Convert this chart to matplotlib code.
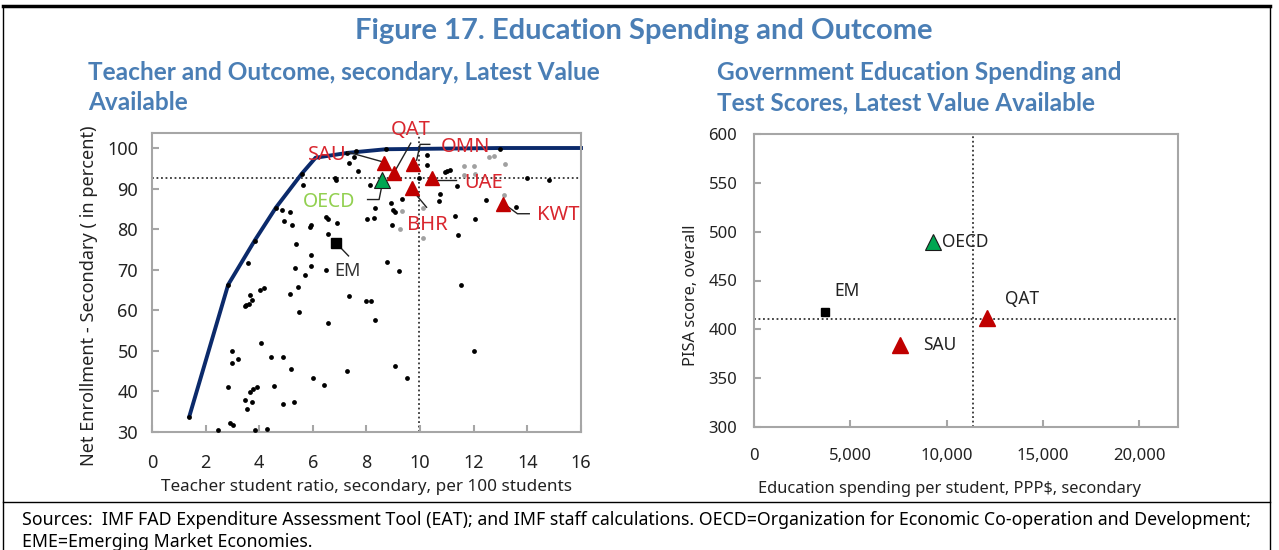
import matplotlib
matplotlib.use("Agg")
import matplotlib.pyplot as plt
from matplotlib.lines import Line2D

# ---- left panel data: teacher student ratio vs net enrollment ----
dots_x = [1.39, 2.84, 3.83, 4.62, 5.59, 7.29, 7.62, 8.72, 12.99, 4.84, 5.16, 4.91, 5.24, 5.36,
          3.58, 5.32, 3.66, 4.03, 4.18, 3.52, 3.62, 3.72, 3.47, 5.15, 4.07, 2.99, 2.97, 3.22,
          4.44, 4.88, 5.20, 2.84, 3.64, 3.78, 3.92, 4.54, 3.46, 3.73, 3.54, 4.88, 5.29, 2.91,
          3.02, 2.45, 3.84, 4.29, 5.44, 7.33, 7.99, 8.15, 5.49, 6.57, 8.32, 7.28, 9.08, 6.01,
          6.43, 9.50, 7.33, 7.52, 7.70, 6.83, 6.85, 8.32, 8.03, 8.27, 8.90, 8.99, 9.07, 9.31,
          8.94, 6.58, 5.93, 5.88, 6.48, 6.58, 6.89, 5.93, 5.93, 6.48, 5.71, 8.76, 9.23, 8.12,
          10.24, 10.27, 9.96, 10.73, 10.69, 10.91, 11.00, 11.13, 11.38, 11.31, 12.05, 11.40,
          12.44, 13.58, 14.00, 14.80, 11.54, 12.00, 5.62]
dots_y = [33.8, 66.3, 77.2, 85.3, 93.7, 98.8, 99.3, 99.7, 99.7, 84.6, 84.3, 82.1, 81.1, 76.4,
          71.7, 70.5, 63.8, 65.0, 65.4, 61.3, 61.5, 62.5, 61.1, 64.1, 51.9, 50.0, 47.1, 48.1,
          48.4, 48.6, 45.6, 41.1, 39.9, 40.5, 41.1, 41.4, 38.0, 37.4, 35.6, 37.0, 37.5, 32.1,
          31.7, 30.5, 30.5, 30.8, 65.8, 63.5, 62.3, 62.3, 59.7, 56.9, 57.5, 45.0, 46.2, 43.3,
          41.5, 43.3, 96.2, 97.8, 94.3, 92.7, 92.1, 85.1, 82.6, 82.8, 86.4, 84.8, 84.2, 87.4,
          81.1, 78.7, 81.0, 80.6, 83.0, 82.6, 81.6, 73.7, 71.0, 70.0, 68.8, 72.0, 69.7, 90.8,
          98.4, 95.8, 92.5, 88.6, 86.9, 94.2, 94.4, 94.7, 90.6, 83.3, 82.4, 78.6,
          87.3, 85.5, 92.7, 92.1, 66.3, 50.0, 91.0]
grey_x = [9.34, 9.25, 10.12, 10.12, 11.62, 11.62, 12.02, 12.03, 12.57, 12.74, 13.15, 13.12]
grey_y = [84.4, 80.1, 85.1, 77.7, 95.5, 93.3, 95.5, 93.6, 97.8, 98.0, 96.0, 88.4]

frontier_x = [1.39, 2.84, 3.83, 4.62, 5.59, 6.1, 7.29, 8.72, 12.99, 16.0]
frontier_y = [33.8, 66.3, 77.2, 85.3, 93.7, 97.6, 98.8, 99.7, 100.0, 100.0]

gcc_names = ["SAU", "QAT", "OMN", "BHR", "UAE", "KWT"]
gcc_x = [8.67, 9.02, 9.75, 9.69, 10.43, 13.09]
gcc_y = [96.4, 93.8, 96.0, 90.1, 92.6, 86.1]
oecd_left = (8.57, 92.1)
em_left = (6.85, 76.7)
avg_ratio, avg_enroll = 9.95, 92.6

# label text positions and leader lines (data coords)
left_labels = {"SAU": (6.55, 98.3), "QAT": (9.66, 104.5), "OMN": (11.68, 100.2),
               "UAE": (12.35, 91.3), "KWT": (15.15, 83.6), "BHR": (10.26, 80.9)}
left_leaders = {"SAU": [(7.3, 99.0), (8.6, 96.6)],
                "QAT": [(9.65, 101.2), (9.05, 94.2)],
                "OMN": [(10.36, 100.9), (10.0, 100.9), (9.87, 97.0)],
                "UAE": [(11.34, 92.1), (10.59, 92.1)],
                "KWT": [(14.07, 83.8), (13.63, 83.8), (13.2, 85.9)],
                "BHR": [(10.24, 85.4), (9.71, 89.6)],
                "OECD": [(8.04, 87.3), (8.47, 87.3), (8.6, 91.6)],
                "EM": [(7.33, 73.4), (7.01, 75.6)]}

# ---- right panel data: spending vs PISA ----
spend = [7600, 12100]
pisa = [384, 412]
oecd_right = (9280, 489)
em_right = (3700, 418)
avg_spend, avg_pisa = 11350, 410.5

RED = "#C00000"
LABEL_RED = "#D9262E"
BLUE = "#4A7EB5"
NAVY = "#0B2A6B"
SPINE = "#A6A6A6"
TXT = "#222222"

plt.rcParams["font.family"] = ["Noto Sans", "DejaVu Sans"]

fig = plt.figure(figsize=(12.79, 5.5), dpi=100)
W, H = 1279, 550


def box(l, t, r, b):
    return [l / W, 1 - b / H, (r - l) / W, (b - t) / H]


def style(ax, size, xpad, ypad):
    for s in ax.spines.values():
        s.set_color(SPINE)
        s.set_linewidth(1.5)
    ax.tick_params(direction="in", color=SPINE, width=1.5, length=5,
                   labelsize=size, labelcolor=TXT)
    ax.tick_params(axis="x", pad=xpad)
    ax.tick_params(axis="y", pad=ypad)


# left panel
ax1 = fig.add_axes(box(152, 133, 581, 432))
ax1.set_xlim(0, 16)
ax1.set_ylim(30, 103.7)
ax1.set_xticks(range(0, 17, 2))
ax1.set_yticks(range(30, 101, 10))
style(ax1, 13, 16, 10)

ax1.axhline(avg_enroll, color="#333333", lw=1.3, ls=(0, (1, 1.5)), zorder=1)
ax1.axvline(avg_ratio, color="#333333", lw=1.3, ls=(0, (1, 1.5)), zorder=1)
ax1.plot(frontier_x, frontier_y, color=NAVY, lw=2.8, zorder=2, clip_on=False)
ax1.scatter(grey_x, grey_y, s=12, color="#A0A0A0", zorder=3, linewidths=0)
ax1.scatter(dots_x, dots_y, s=12, color="black", zorder=3, linewidths=0)

for name, pts in left_leaders.items():
    xs, ys = zip(*pts)
    ax1.plot(xs, ys, color=TXT, lw=1, zorder=4, clip_on=False)

ax1.plot(gcc_x, gcc_y, "^", ms=10, color=RED, mec=RED, zorder=5, ls="none")
ax1.plot(*oecd_left, "^", ms=12, color="#00A651", mec="#1a1a1a", mew=0.8, zorder=6)
ax1.plot(*em_left, "s", ms=7, color="black", zorder=5)

for name in gcc_names:
    tx, ty = left_labels[name]
    ax1.text(tx, ty, name, color=LABEL_RED, fontsize=14.5, ha="center", va="center",
             zorder=7, clip_on=False)
ax1.text(6.6, 86.8, "OECD", color="#92D050", fontsize=14, ha="center", va="center", zorder=7)
ax1.text(7.28, 69.7, "EM", color="#333333", fontsize=13, ha="center", va="center", zorder=7)

ax1.set_xlabel("Teacher student ratio, secondary, per 100 students", fontsize=12.3,
               color=TXT, labelpad=5)
ax1.set_ylabel("Net Enrollment - Secondary ( in percent)", fontsize=13, color=TXT)
ax1.yaxis.set_label_coords(-0.127, 0.455)

# right panel
ax2 = fig.add_axes(box(754, 134, 1178, 427))
ax2.set_xlim(0, 22000)
ax2.set_ylim(300, 600)
ax2.set_xticks(range(0, 20001, 5000))
ax2.set_yticks(range(300, 601, 50))
ax2.set_xticklabels([f"{v:,}" for v in range(0, 20001, 5000)])
style(ax2, 12, 15, 12)

ax2.axhline(avg_pisa, color="#333333", lw=1.3, ls=(0, (1, 1.5)), zorder=1)
ax2.axvline(avg_spend, color="#333333", lw=1.3, ls=(0, (1, 1.5)), zorder=1)
ax2.plot(spend, pisa, "^", ms=11, color=RED, ls="none", zorder=4)
ax2.plot(*oecd_right, "^", ms=11, color="#00A651", mec="#1a1a1a", mew=0.8, zorder=4)
ax2.plot(*em_right, "s", ms=6, color="black", zorder=4)

ax2.text(9750, 489, "OECD", fontsize=12.5, color=TXT, va="center", ha="left")
ax2.text(4850, 439, "EM", fontsize=12.5, color=TXT, va="center", ha="center")
ax2.text(13900, 431, "QAT", fontsize=12.5, color=TXT, va="center", ha="center")
ax2.text(9650, 384, "SAU", fontsize=12.5, color=TXT, va="center", ha="center")

ax2.set_xlabel("Education spending per student, PPP$, secondary", fontsize=11.8, color=TXT)
ax2.xaxis.set_label_coords(0.462, -0.183)
ax2.set_ylabel("PISA score, overall", fontsize=11.8, color=TXT)
ax2.yaxis.set_label_coords(-0.13, 0.45)

# titles
tfont = ["Lato", "DejaVu Sans"]
fig.text(644 / W, 1 - 31 / H, "Figure 17. Education Spending and Outcome", fontsize=21,
         fontweight="bold", color=BLUE, ha="center", va="center", family=tfont)
for x0, y0, line in [(88, 73, "Teacher and Outcome, secondary, Latest Value"),
                     (88, 103, "Available"),
                     (717, 73, "Government Education Spending and"),
                     (717, 103, "Test Scores, Latest Value Available")]:
    fig.text(x0 / W, 1 - y0 / H, line, fontsize=17.6, fontweight="bold", color=BLUE,
             ha="left", va="center", family=tfont)

# footnote
fig.text(22 / W, 1 - 520 / H,
         "Sources:  IMF FAD Expenditure Assessment Tool (EAT); and IMF staff calculations. "
         "OECD=Organization for Economic Co-operation and Development;",
         fontsize=12.75, color="black", ha="left", va="center")
fig.text(22 / W, 1 - 542 / H, "EME=Emerging Market Economies.",
         fontsize=12.75, color="black", ha="left", va="center")

# frame
fig.add_artist(Line2D([3 / W, 1270 / W], [1 - 6 / H, 1 - 6 / H], color="black", lw=2.5))
fig.add_artist(Line2D([3 / W, 3 / W], [0, 1 - 6 / H], color="black", lw=1))
fig.add_artist(Line2D([1270 / W, 1270 / W], [0, 1 - 6 / H], color="black", lw=1))
fig.add_artist(Line2D([3 / W, 1270 / W], [1 - 502 / H, 1 - 502 / H], color="black", lw=1))

fig.savefig("out.png", dpi=100)
